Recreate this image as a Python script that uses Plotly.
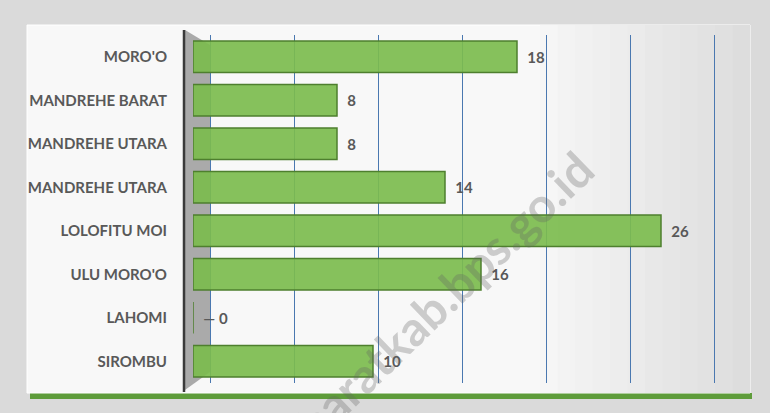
import plotly.graph_objects as go

categories = ["MORO'O", "MANDREHE BARAT", "MANDREHE UTARA", "MANDREHE UTARA",
              "LOLOFITU MOI", "ULU MORO'O", "LAHOMI", "SIROMBU"]
values = [18, 8, 8, 14, 26, 16, 0, 10]
grid_ticks = [0, 5, 10, 15, 20, 25, 30]
watermark = "niasbaratkab.bps.go.id"

W, H = 770, 413
L, R, T, B = 193, 19, 35, 30
PW = W - L - R
PH = H - T - B


def fx(px):
    return (px - L) / PW


def fy(py):
    return 1 - (py - T) / PH


positions = list(range(len(categories)))
labels = [f"  {v}" if v else "  \u2014 0" for v in values]

fig = go.Figure()
fig.add_trace(go.Bar(
    orientation="h",
    x=values,
    y=positions,
    width=0.72,
    marker=dict(color="rgba(124,188,78,0.92)",
                line=dict(color="#4e7f2e", width=1.5)),
    text=labels,
    textposition="outside",
    cliponaxis=False,
    textfont=dict(family="Lato", size=15, color="#595959", weight="bold"),
    hoverinfo="skip",
    showlegend=False,
))
# invisible trace to bind the back-wall (gridline) axis
fig.add_trace(go.Scatter(x=[None], y=[None], xaxis="x2", yaxis="y",
                         mode="markers", showlegend=False, hoverinfo="skip"))

shapes = [
    dict(type="rect", xref="paper", yref="paper",
         x0=fx(30), x1=fx(752), y0=fy(393), y1=fy(399),
         fillcolor="#5e9c3a", line=dict(width=0), layer="below"),
    dict(type="rect", xref="paper", yref="paper",
         x0=fx(27), x1=fx(750), y0=fy(25), y1=fy(393),
         fillcolor="#f8f8f8", line=dict(color="#ffffff", width=1), layer="below"),
]
# soft grey shading toward the right edge of the chart box
n_steps = 12
for i in range(n_steps):
    x0 = 540 + i * (210 / n_steps)
    g = int(246 - i * 2.2)
    shapes.append(dict(type="rect", xref="paper", yref="paper",
                       x0=fx(x0), x1=fx(750), y0=fy(25), y1=fy(393),
                       fillcolor=f"rgb({g},{g},{g})", line=dict(width=0),
                       layer="below"))
shapes += [
    dict(type="path", xref="paper", yref="paper",
         path=(f"M {fx(185)},{fy(30)} L {fx(210)},{fy(45)} "
               f"L {fx(210)},{fy(372)} L {fx(185)},{fy(390)} Z"),
         fillcolor="#aaaaaa", line=dict(width=0), layer="below"),
    dict(type="line", xref="paper", yref="paper",
         x0=fx(184), x1=fx(184), y0=fy(30), y1=fy(392),
         line=dict(color="#3a3a3a", width=2.5), layer="above"),
]

fig.update_layout(
    width=W, height=H,
    margin=dict(l=L, r=R, t=T, b=B),
    paper_bgcolor="#dadada",
    plot_bgcolor="rgba(0,0,0,0)",
    xaxis=dict(range=[0, PW / 18], showgrid=False, showticklabels=False,
               zeroline=False, showline=False, fixedrange=True),
    xaxis2=dict(overlaying="x", side="top",
                range=[(L - 210) / 16.8, (W - R - 210) / 16.8],
                tickvals=grid_ticks, showticklabels=False, showgrid=True,
                gridcolor="#4a78b0", gridwidth=1.4, zeroline=False,
                showline=False, layer="below traces"),
    yaxis=dict(range=[len(categories) - 0.5, -0.5], tickvals=positions,
               ticktext=categories, showgrid=False, zeroline=False,
               ticks="outside", ticklen=22, tickcolor="rgba(0,0,0,0)",
               tickfont=dict(family="Lato", size=15, color="#595959",
                             weight="bold")),
    shapes=shapes,
    annotations=[dict(
        text=watermark, xref="paper", yref="paper",
        x=fx(413), y=fy(325), xanchor="center", yanchor="middle",
        textangle=-44, showarrow=False,
        font=dict(family="Lato", size=48, color="rgba(100,100,100,0.3)",
                  weight="bold"),
    )],
)

fig.write_html("out.html", config={"displayModeBar": False},
               post_script="document.body.style.margin='0';"
                           "document.body.style.overflow='hidden';")
